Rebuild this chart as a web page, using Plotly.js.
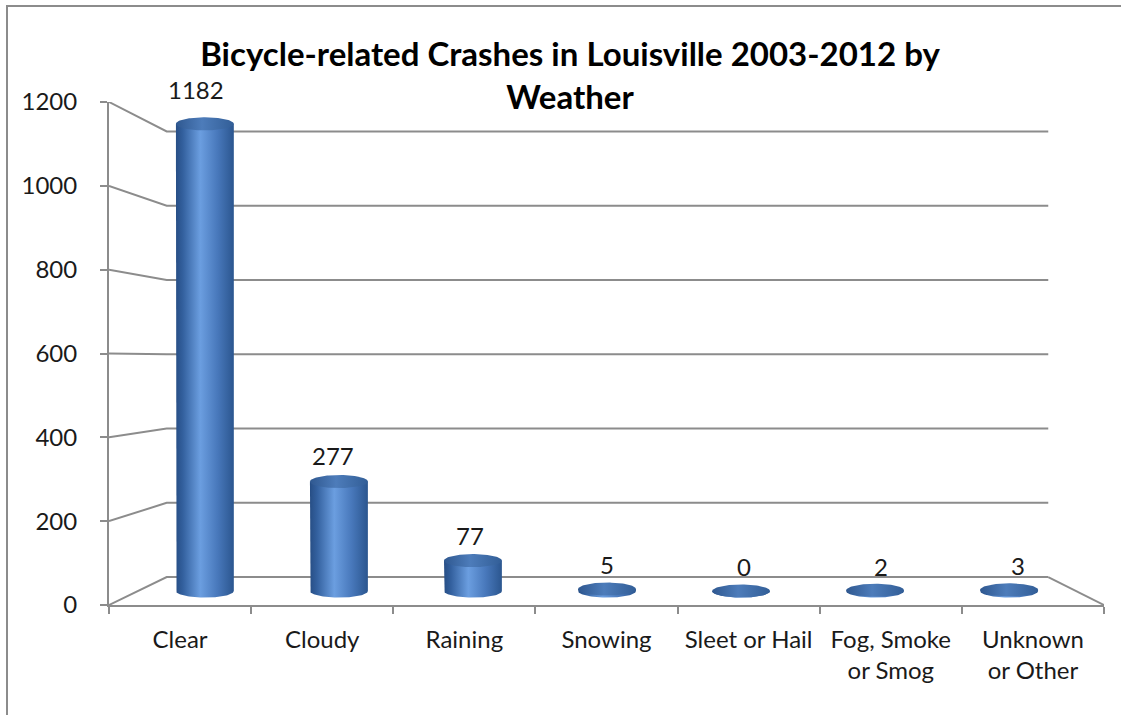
<!DOCTYPE html>
<html>
<head>
<meta charset="utf-8">
<script src="https://cdn.plot.ly/plotly-3.0.1.min.js"></script>
<style>
  html, body { margin: 0; padding: 0; background: #fff; overflow: hidden; }
  #frame { position: absolute; left: 6px; top: 5px; width: 1300px; height: 900px;
           border-left: 2px solid #8c8c8c; border-top: 2px solid #8c8c8c; }
  #chart { position: absolute; left: 0; top: 0; width: 1121px; height: 715px; }
</style>
</head>
<body>
<div id="frame"></div>
<div id="chart"></div>
<script>
// Bicycle-related crashes in Louisville, 2003-2012, by weather condition
const categories = ['Clear', 'Cloudy', 'Raining', 'Snowing', 'Sleet or Hail',
                    'Fog, Smoke<br>or Smog', 'Unknown<br>or Other'];
const crashes = [1182, 277, 77, 5, 0, 2, 3];
const yTicks = [0, 200, 400, 600, 800, 1000, 1200];

// Simple perspective box: depth 0 is the front plane (the axes), depth 1 the back wall.
// Points shrink towards a vanishing point as they go back.
const VX = 3.06, VY = 584, SHRINK = 0.114;
const X0 = -0.5, X1 = categories.length - 0.5;
function proj(x, y, d) {
  const s = 1 - SHRINK * d;
  return [VX + s * (x - VX), VY + s * (y - VY)];
}

const GRID = '#8c8c8c';
const FONT = 'Lato, "Open Sans", sans-serif';
const traces = [];

// back wall gridlines with their slanted links to the front axis, plus the floor's right edge
const gx = [], gy = [];
function addPath(pts) {
  pts.forEach(p => { const q = proj(p[0], p[1], p[2]); gx.push(q[0]); gy.push(q[1]); });
  gx.push(null); gy.push(null);
}
yTicks.forEach(v => addPath([[X0, v, 0], [X0, v, 1], [X1, v, 1]]));
addPath([[X1, 0, 1], [X1, 0, 0]]);
traces.push({ x: gx, y: gy, mode: 'lines', line: { color: GRID, width: 2 },
              hoverinfo: 'skip', showlegend: false });

// cylinders standing mid-depth on the floor
const R = 0.216, RY = 16.5, DEPTH = 0.5, N = 60;
const bodyScale = [[0, '#274e85'], [0.12, '#33609e'], [0.42, '#6b9ee0'],
                   [0.72, '#4878bb'], [1, '#2b568f']];
const capScale = [[0, '#2f5890'], [0.45, '#4d7cba'], [1, '#325e97']];

crashes.forEach((v, i) => {
  const bx = [], by = [];
  const put = (arrx, arry, x, y) => { const q = proj(x, y, DEPTH); arrx.push(q[0]); arry.push(q[1]); };
  put(bx, by, i - R, v);
  for (let k = 0; k <= N; k++) {
    const t = Math.PI + Math.PI * k / N;
    put(bx, by, i + R * Math.cos(t), RY * Math.sin(t));
  }
  put(bx, by, i + R, v);
  const left = proj(i - R, 0, DEPTH)[0], right = proj(i + R, 0, DEPTH)[0];
  traces.push({ x: bx, y: by, mode: 'lines', fill: 'toself',
                line: { width: 0, color: 'rgba(0,0,0,0)' },
                fillgradient: { type: 'horizontal', colorscale: bodyScale, start: left, stop: right },
                hoverinfo: 'skip', showlegend: false });

  const cx = [], cy = [];
  for (let k = 0; k <= N * 2; k++) {
    const t = 2 * Math.PI * k / (N * 2);
    put(cx, cy, i + R * Math.cos(t), v + RY * Math.sin(t));
  }
  traces.push({ x: cx, y: cy, mode: 'lines', fill: 'toself',
                line: { width: 0, color: 'rgba(0,0,0,0)' },
                fillgradient: { type: 'horizontal', colorscale: capScale, start: left, stop: right },
                hoverinfo: 'skip', showlegend: false });
});

// value labels above each cylinder
const annotations = crashes.map((v, i) => {
  const q = proj(i, v + RY, 0.32);
  return { x: q[0], y: q[1], xref: 'x', yref: 'y', text: String(v), showarrow: false,
           yanchor: 'bottom', yshift: 6, font: { family: FONT, size: 24, color: '#1a1a1a' } };
});

const boundaries = categories.map((c, i) => i - 0.5).concat([X1]);

const layout = {
  width: 1121, height: 715,
  paper_bgcolor: 'rgba(0,0,0,0)', plot_bgcolor: 'rgba(0,0,0,0)',
  margin: { l: 109, r: 17, t: 102, b: 110 },
  title: {
    text: 'Bicycle-related Crashes in Louisville 2003-2012 by<br>Weather',
    font: { family: FONT, size: 33, weight: 'bold', color: '#000' },
    x: 570 / 1121, xanchor: 'center', y: 1 - 66 / 715, yanchor: 'top'
  },
  xaxis: {
    range: [X0, X1], tickvals: categories.map((c, i) => i), ticktext: categories,
    ticks: '', showline: true, linecolor: GRID, linewidth: 2,
    showgrid: false, zeroline: false, fixedrange: true, ticklabelstandoff: 12,
    tickfont: { family: FONT, size: 24, color: '#1a1a1a' },
    minor: { tickvals: boundaries, ticks: 'outside', ticklen: 7, tickwidth: 2,
             tickcolor: GRID, showgrid: false }
  },
  yaxis: {
    range: [0, 1200], tickvals: yTicks, ticks: 'outside', ticklen: 7, tickwidth: 2,
    tickcolor: GRID, showline: true, linecolor: GRID, linewidth: 2,
    showgrid: false, zeroline: false, fixedrange: true, ticklabelstandoff: 18,
    tickfont: { family: FONT, size: 24, color: '#1a1a1a' }
  },
  annotations: annotations,
  showlegend: false
};

Plotly.newPlot('chart', traces, layout, { displayModeBar: false, staticPlot: true });
</script>
</body>
</html>
